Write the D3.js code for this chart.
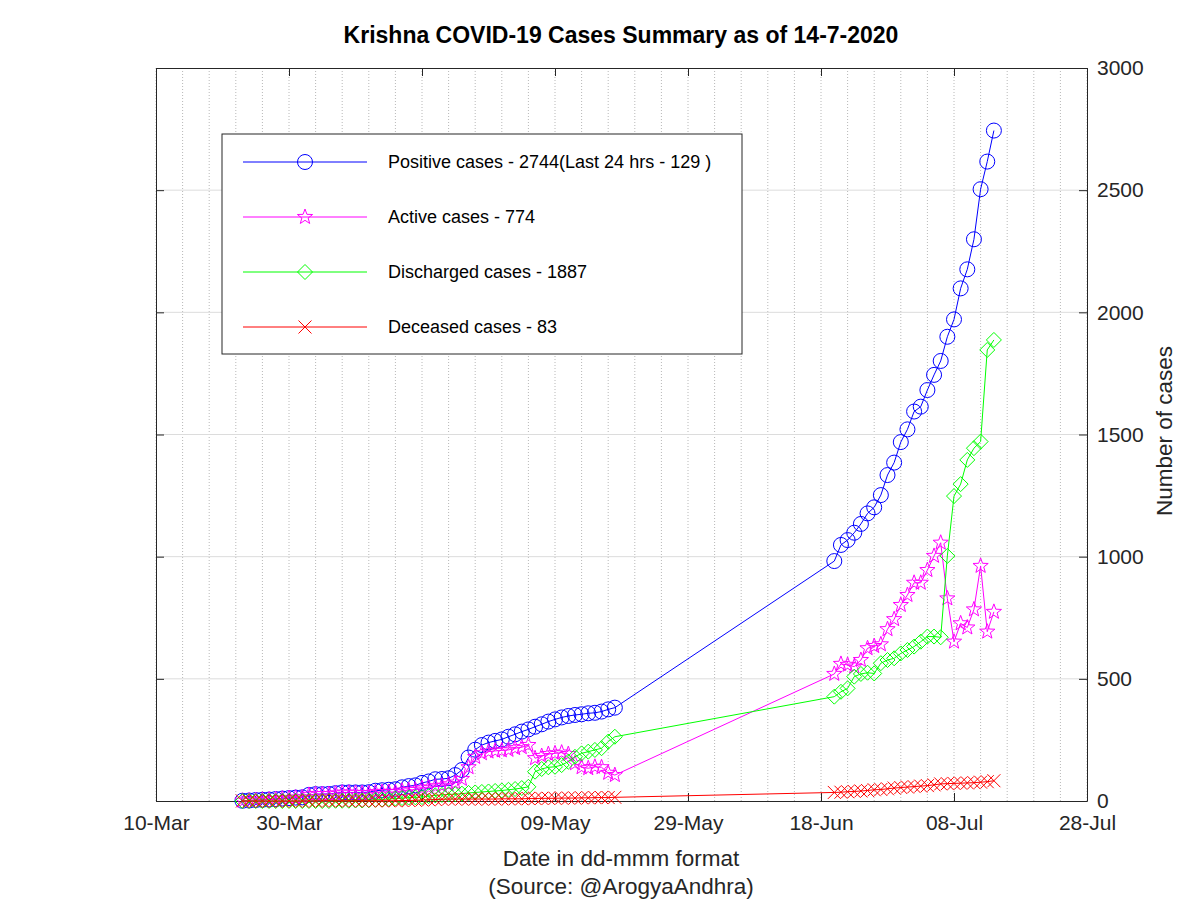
<!DOCTYPE html>
<html>
<head>
<meta charset="utf-8">
<script src="https://cdn.jsdelivr.net/npm/d3@7"></script>
<style>
  body { margin: 0; background: #fff; }
  text { font-family: "Liberation Sans", Arial, Helvetica, sans-serif; }
</style>
</head>
<body>
<div class="container"></div>
<script>
// daily figures, two reported stretches: 23-Mar..18-May and 20-Jun..14-Jul
const spans = [["2020-03-23", "2020-05-18"], ["2020-06-20", "2020-07-14"]]

const positive = [
  1, 2, 4, 5, 6, 8, 10, 12, 14, 15,
  25, 28, 28, 29, 32, 35, 35, 35, 35, 36,
  42, 44, 46, 48, 56, 61, 64, 74, 80, 89,
  90, 93, 106, 127, 178, 210, 229, 239, 246, 252,
  263, 273, 284, 293, 304, 314, 325, 334, 342, 348,
  352, 355, 359, 361, 366, 375, 382,
  982, 1048, 1068, 1098, 1134, 1177, 1202, 1252, 1334, 1385,
  1469, 1521, 1594, 1614, 1682, 1744, 1801, 1900, 1971, 2098,
  2176, 2299, 2504, 2617, 2744
]
const active = [
  1, 2, 4, 5, 6, 8, 10, 12, 14, 15,
  25, 28, 28, 28, 31, 34, 34, 33, 32, 32,
  36, 37, 37, 36, 42, 45, 46, 52, 55, 60,
  62, 68, 75, 90, 138, 180, 195, 202, 205, 207,
  209, 216, 220, 229, 175, 184, 192, 195, 198, 192,
  154, 138, 134, 140, 138, 115, 106,
  520, 561, 557, 550, 577, 625, 634, 641, 703, 744,
  802, 843, 893, 893, 945, 1003, 1057, 829, 652, 727,
  710, 784, 962, 693, 774
]
const discharged = [
  0, 0, 0, 0, 0, 0, 0, 0, 0, 0,
  0, 0, 0, 0, 1, 1, 1, 2, 2, 3,
  5, 6, 8, 10, 12, 14, 15, 16, 20, 23,
  25, 27, 28, 30, 33, 35, 37, 39, 41, 43,
  46, 49, 53, 58, 120, 131, 138, 140, 147, 161,
  181, 195, 202, 209, 216, 243, 263,
  427, 447, 461, 509, 520, 525, 522, 564, 577, 584,
  604, 618, 632, 652, 673, 673, 670, 1003, 1248, 1297,
  1396, 1444, 1471, 1846, 1887
]
const deceased = [
  0, 0, 0, 0, 0, 0, 0, 0, 0, 0,
  0, 0, 1, 1, 1, 1, 1, 1, 1, 1,
  1, 1, 1, 1, 2, 2, 3, 4, 5, 6,
  7, 8, 8, 8, 8, 8, 8, 8, 8, 9,
  9, 9, 9, 10, 10, 11, 11, 11, 12, 12,
  12, 13, 13, 14, 14, 14, 15,
  35, 36, 38, 39, 41, 43, 46, 47, 50, 53,
  55, 57, 59, 61, 63, 66, 70, 71, 72, 73,
  74, 75, 77, 79, 83
]

const seriesNames = ["Positive cases - 2744(Last 24 hrs - 129 )", "Active cases - 774",
  "Discharged cases - 1887", "Deceased cases - 83"]
const seriesColors = ["#0000ff", "#ff00ff", "#00ff00", "#ff0000"]
const seriesMarkers = ["circle", "star", "diamond", "cross"]

const xTickLabels = ["10-Mar", "30-Mar", "19-Apr", "09-May", "29-May", "18-Jun", "08-Jul", "28-Jul"]
const yTicks = [0, 500, 1000, 1500, 2000, 2500, 3000]

const width = 1200
const height = 900
const plotL = 156, plotR = 1087, plotT = 68, plotB = 801

const parse = d3.timeParse("%Y-%m-%d")
const parseTick = d3.timeParse("%d-%b-%Y")
const tickDates = xTickLabels.map(t => parseTick(t + "-2020"))

// one date per reported day
const dates = []
spans.forEach(s => {
  d3.timeDay.range(parse(s[0]), d3.timeDay.offset(parse(s[1]), 1)).forEach(d => dates.push(d))
})

const x = d3.scaleTime()
  .domain([tickDates[0], tickDates[tickDates.length - 1]])
  .range([plotL, plotR])
const y = d3.scaleLinear().domain([0, 3000]).range([plotB, plotT])

const svg = d3.select('.container')
  .append('svg')
  .attr('width', width)
  .attr('height', height)

// grid: dotted verticals every 4 days, light horizontals
const gridDates = d3.timeDay.range(tickDates[0], d3.timeDay.offset(tickDates[tickDates.length - 1], 1))
  .filter((d, i) => i % 4 === 0)
svg.append('g')
  .selectAll('line')
  .data(gridDates)
  .join('line')
  .attr('x1', d => x(d)).attr('x2', d => x(d))
  .attr('y1', plotT).attr('y2', plotB)
  .attr('stroke', '#b8b8b8')
  .attr('stroke-width', 1)
  .attr('stroke-dasharray', '1,2')

svg.append('g')
  .selectAll('line')
  .data(yTicks.slice(1, -1))
  .join('line')
  .attr('x1', plotL).attr('x2', plotR)
  .attr('y1', d => y(d)).attr('y2', d => y(d))
  .attr('stroke', '#dcdcdc')
  .attr('stroke-width', 1)

// axes
const fmt = d3.timeFormat("%d-%b")
svg.append('g')
  .attr('transform', `translate(0,${plotB})`)
  .call(d3.axisBottom(x).tickValues(tickDates).tickFormat(fmt).tickSizeInner(-8).tickSizeOuter(0).tickPadding(14))
svg.append('g')
  .attr('transform', `translate(0,${plotT})`)
  .call(d3.axisTop(x).tickValues(tickDates).tickFormat('').tickSizeInner(-8).tickSizeOuter(0))
svg.append('g')
  .attr('transform', `translate(${plotR},0)`)
  .call(d3.axisRight(y).tickValues(yTicks).tickFormat(d3.format('d')).tickSizeInner(-8).tickSizeOuter(0).tickPadding(10))
svg.append('g')
  .attr('transform', `translate(${plotL},0)`)
  .call(d3.axisLeft(y).tickValues(yTicks).tickFormat('').tickSizeInner(-8).tickSizeOuter(0))

svg.selectAll('.domain').attr('stroke', '#262626')
svg.selectAll('.tick line').attr('stroke', '#262626')
svg.selectAll('.tick text')
  .attr('fill', '#262626')
  .style('font-size', '21px')
  .style('font-family', '"Liberation Sans", Arial, sans-serif')

// marker shapes
function marker(type) {
  if (type === 'circle') return d3.symbol(d3.symbolCircle, Math.PI * 7.5 * 7.5)()
  if (type === 'diamond') return 'M0,-7.5L7.5,0L0,7.5L-7.5,0Z'
  if (type === 'cross') return 'M-6.5,-6.5L6.5,6.5M-6.5,6.5L6.5,-6.5'
  // star
  let p = ''
  for (let i = 0; i < 10; i++) {
    const r = i % 2 === 0 ? 8 : 3.3
    const a = -Math.PI / 2 + i * Math.PI / 5
    p += (i ? 'L' : 'M') + (r * Math.cos(a)).toFixed(2) + ',' + (r * Math.sin(a)).toFixed(2)
  }
  return p + 'Z'
}

const allSeries = [positive, active, discharged, deceased]
const line = d3.line().x(d => x(d[0])).y(d => y(d[1]))

allSeries.forEach((vals, i) => {
  const pts = dates.map((d, j) => [d, vals[j]])
  const g = svg.append('g')
  g.append('path')
    .attr('d', line(pts))
    .attr('fill', 'none')
    .attr('stroke', seriesColors[i])
    .attr('stroke-width', 1)
  g.selectAll('path.m')
    .data(pts)
    .join('path')
    .attr('class', 'm')
    .attr('d', marker(seriesMarkers[i]))
    .attr('transform', d => `translate(${x(d[0])},${y(d[1])})`)
    .attr('fill', 'none')
    .attr('stroke', seriesColors[i])
    .attr('stroke-width', 1)
})

// legend
const lg = svg.append('g').attr('transform', 'translate(222,134)')
lg.append('rect')
  .attr('width', 520).attr('height', 220)
  .attr('fill', '#fff')
  .attr('stroke', '#262626')
  .attr('stroke-width', 1)
seriesNames.forEach((name, i) => {
  const yy = 28 + i * 55
  lg.append('line')
    .attr('x1', 21).attr('x2', 145)
    .attr('y1', yy).attr('y2', yy)
    .attr('stroke', seriesColors[i])
  lg.append('path')
    .attr('d', marker(seriesMarkers[i]))
    .attr('transform', `translate(83,${yy})`)
    .attr('fill', 'none')
    .attr('stroke', seriesColors[i])
  lg.append('text')
    .attr('x', 166).attr('y', yy)
    .attr('dy', '0.35em')
    .style('font-size', '18px')
    .attr('fill', '#000')
    .text(name)
})

// titles
svg.append('text')
  .attr('x', 621).attr('y', 43)
  .attr('text-anchor', 'middle')
  .style('font-size', '23px')
  .style('font-weight', 'bold')
  .text('Krishna COVID-19 Cases Summary as of 14-7-2020')
svg.append('text')
  .attr('x', 621).attr('y', 866)
  .attr('text-anchor', 'middle')
  .style('font-size', '22.5px')
  .attr('fill', '#262626')
  .text('Date in dd-mmm format')
svg.append('text')
  .attr('x', 621).attr('y', 894)
  .attr('text-anchor', 'middle')
  .style('font-size', '22.5px')
  .attr('fill', '#262626')
  .text('(Source: @ArogyaAndhra)')
svg.append('text')
  .attr('transform', 'translate(1172,431) rotate(-90)')
  .attr('text-anchor', 'middle')
  .style('font-size', '22.5px')
  .attr('fill', '#262626')
  .text('Number of cases')
</script>
</body>
</html>
